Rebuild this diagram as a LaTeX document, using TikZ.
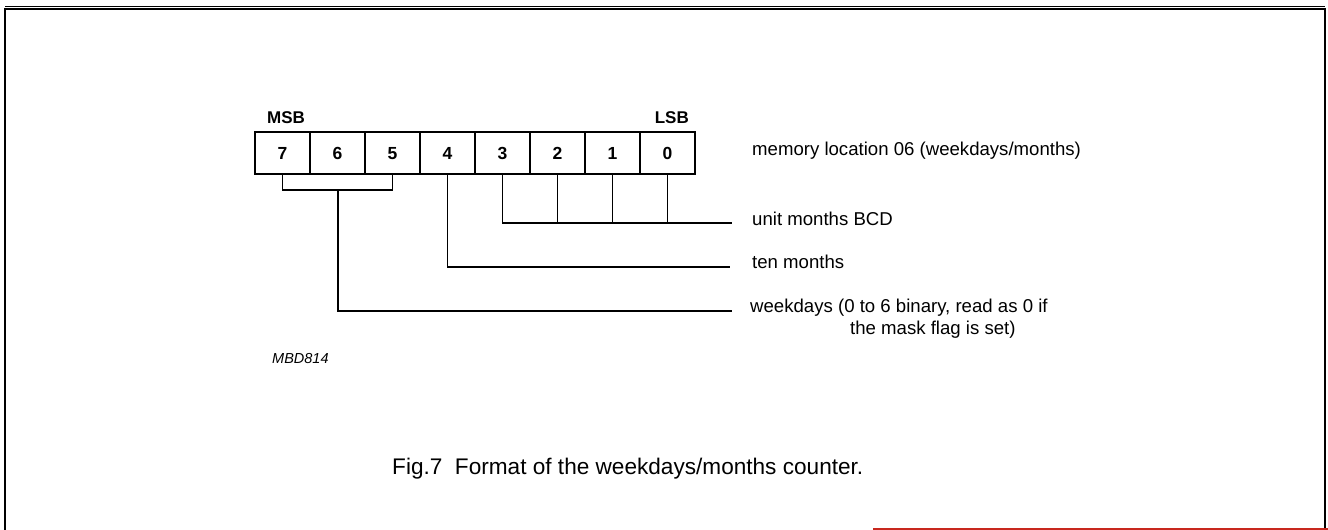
\documentclass[tikz,border=0pt]{standalone}
\usepackage{fontspec}
\setmainfont{Liberation Sans}
\begin{document}
\begin{tikzpicture}[x=1pt,y=-1pt,
  cell/.style={draw,line width=1.6pt,minimum width=55pt,minimum height=42pt,inner sep=0pt,
    text height=12.5pt,text depth=0pt,
    font=\fontsize{17.5}{19}\selectfont\bfseries},
  lbl/.style={anchor=base west,inner sep=0pt,font=\fontsize{18.6}{20}\selectfont},
  conn/.style={line width=1.1pt},
  frame/.style={line width=1.8pt}]
\useasboundingbox (0,0) rectangle (1328,530);
% frame
\draw[frame] (5,531) -- (5,9) -- (1325,9) -- (1325,528);
\draw[line width=0.8pt] (5,6.5) -- (1325,6.5);
\draw[line width=2pt,draw={rgb,255:red,200;green,40;blue,30}] (873,528.5) -- (1328,528.5);
% register cells
\foreach \b [count=\i from 0] in {7,6,5,4,3,2,1,0}
  \node[cell] (b\b) at (282.5+55*\i,153) {\b};
\node[anchor=base west,inner sep=0pt,font=\fontsize{17}{18}\selectfont\bfseries] (msb) at (267,123) {MSB};
\node[anchor=base east,inner sep=0pt,font=\fontsize{17}{18}\selectfont\bfseries] (lsb) at (689,123) {LSB};
% labels
\node[lbl] (mem) at (752,155) {memory location 06 (weekdays/months)};
\node[lbl] (unit) at (752,225) {unit months BCD};
\node[lbl] (ten) at (752,268) {ten months};
\node[lbl] (wk) at (750,312) {weekdays (0 to 6 binary, read as 0 if};
\node[lbl] (wk2) at (850,334) {the mask flag is set)};
\node[anchor=base west,inner sep=0pt,font=\fontsize{14.5}{16}\selectfont\itshape] (mbd) at (272,363) {MBD814};
\node[anchor=base west,inner sep=0pt,font=\fontsize{22.6}{24}\selectfont] (title) at (392,474) {Fig.7\ \ Format of the weekdays/months counter.};
% line end points
\coordinate (eu) at (732,223);
\coordinate (et) at (730,267);
\coordinate (ew) at (732,311);
\coordinate (bk) at (338,190);
% connectors
\draw[conn] (b7.south) -- (b7.south |- bk) -- (b5.south |- bk) -- (b5.south);
\draw[conn] (bk) |- (ew);
\draw[conn] (b4.south) |- (et);
\draw[conn] (b3.south) |- (eu);
\draw[conn] (b2.south) -- (b2.south |- eu);
\draw[conn] (b1.south) -- (b1.south |- eu);
\draw[conn] (b0.south) -- (b0.south |- eu);
\end{tikzpicture}
\end{document}
